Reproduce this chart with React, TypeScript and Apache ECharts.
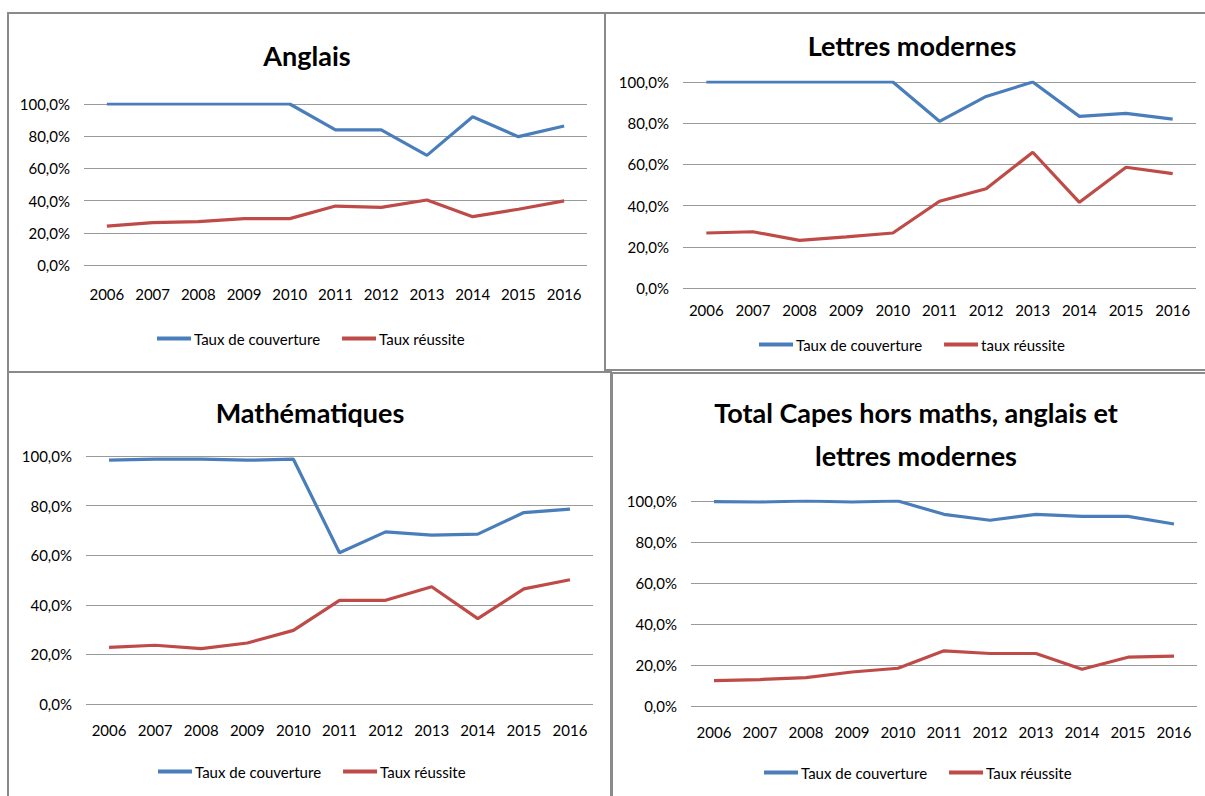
import React, { useEffect, useRef } from "react";
import * as echarts from "echarts";

// ---------- Data ----------
const years = ["2006", "2007", "2008", "2009", "2010", "2011", "2012", "2013", "2014", "2015", "2016"];
const yTicks = [0, 20, 40, 60, 80, 100];

const anglaisCouverture = [100, 100, 100, 100, 100, 83.9, 83.9, 68.1, 92.1, 79.7, 86.3];
const anglaisReussite = [24.2, 26.3, 26.9, 28.8, 28.8, 36.6, 35.8, 40.4, 30.0, 34.6, 39.8];

const lettresCouverture = [100, 100, 100, 100, 100, 80.9, 93.0, 100, 83.3, 84.8, 82.0];
const lettresReussite = [26.7, 27.3, 23.1, 24.8, 26.7, 42.1, 48.2, 65.9, 41.6, 58.6, 55.5];

const mathsCouverture = [98.3, 98.7, 98.7, 98.3, 98.7, 61.0, 69.4, 68.1, 68.5, 77.2, 78.6];
const mathsReussite = [22.8, 23.7, 22.3, 24.6, 29.7, 41.8, 41.8, 47.3, 34.4, 46.4, 50.1];

const totalCouverture = [99.7, 99.5, 100, 99.5, 100, 93.5, 90.6, 93.5, 92.5, 92.5, 88.8];
const totalReussite = [12.4, 12.9, 13.8, 16.6, 18.4, 26.9, 25.6, 25.6, 17.9, 23.8, 24.3];

const titles = [["Anglais"], ["Lettres modernes"], ["Mathématiques"], ["Total Capes hors maths, anglais et", "lettres modernes"]];
const couvertureName = "Taux de couverture";
const reussiteNames = ["Taux réussite", "taux réussite", "Taux réussite", "Taux réussite"];
const couvertureData = [anglaisCouverture, lettresCouverture, mathsCouverture, totalCouverture];
const reussiteData = [anglaisReussite, lettresReussite, mathsReussite, totalReussite];

// ---------- Layout / style ----------
const BLUE = "#4a7ebb";
const RED = "#be4b48";
const FONT = "Lato";

const grids = [
  { left: 84, top: 104, width: 503, height: 161, labelMargin: 21 },
  { left: 683, top: 82, width: 513, height: 206, labelMargin: 14 },
  { left: 86, top: 456, width: 507, height: 248, labelMargin: 18 },
  { left: 691, top: 501, width: 506, height: 205, labelMargin: 18 },
];
const titlePos = [
  { x: 307, y: 55 },
  { x: 912, y: 45 },
  { x: 310, y: 412 },
  { x: 916, y: 412 },
];
const legendPos = [
  { left: 152, cy: 339 },
  { left: 754, cy: 345 },
  { left: 153, cy: 772 },
  { left: 759, cy: 773 },
];
const frames = [
  { x: 8, y: 13, w: 597, h: 359 },
  { x: 605, y: 13, w: 610, h: 357 },
  { x: 8, y: 372, w: 603, h: 440 },
  { x: 612, y: 373, w: 600, h: 440 },
];

const fmt = (v: number) => `${v.toFixed(1).replace(".", ",")}%`;

export default function App() {
  const ref = useRef<HTMLDivElement>(null);

  useEffect(() => {
    if (!ref.current) return;
    const chart = echarts.init(ref.current, null, { renderer: "svg" });

    const graphic: any[] = [];
    frames.forEach((f) => {
      graphic.push({
        type: "rect",
        shape: { x: f.x, y: f.y, width: f.w, height: f.h },
        style: { fill: "none", stroke: "#8a8a8a", lineWidth: 2 },
        silent: true,
      });
    });
    titles.forEach((lines, i) => {
      lines.forEach((t, j) => {
        graphic.push({
          type: "text",
          x: titlePos[i].x,
          y: titlePos[i].y + j * 43,
          style: {
            text: t,
            fontSize: 27,
            fontWeight: "bold",
            fontFamily: FONT,
            fill: "#000",
            align: "center",
            verticalAlign: "middle",
            textAlign: "center",
            textVerticalAlign: "middle",
          },
          silent: true,
        });
      });
    });

    const series: any[] = [];
    couvertureData.forEach((d, i) => {
      series.push({
        type: "line",
        name: couvertureName,
        xAxisIndex: i,
        yAxisIndex: i,
        data: d,
        symbol: "none",
        showSymbol: false,
        color: BLUE,
        lineStyle: { color: BLUE, width: 3.2 },
      });
      series.push({
        type: "line",
        name: reussiteNames[i],
        xAxisIndex: i,
        yAxisIndex: i,
        data: reussiteData[i],
        symbol: "none",
        showSymbol: false,
        color: RED,
        lineStyle: { color: RED, width: 3.2 },
      });
    });

    chart.setOption({
      animation: false,
      backgroundColor: "#ffffff",
      graphic,
      grid: grids.map((g) => ({ left: g.left, top: g.top, width: g.width, height: g.height, containLabel: false })),
      xAxis: grids.map((g, i) => ({
        type: "category",
        gridIndex: i,
        data: years,
        boundaryGap: true,
        axisLine: { show: false },
        axisTick: { show: false },
        axisLabel: { color: "#000", fontFamily: FONT, fontSize: 15, margin: g.labelMargin, interval: 0 },
      })),
      yAxis: grids.map((g, i) => ({
        type: "value",
        gridIndex: i,
        min: yTicks[0],
        max: yTicks[yTicks.length - 1],
        interval: yTicks[1] - yTicks[0],
        axisLine: { show: false },
        axisTick: { show: false },
        splitLine: { show: true, lineStyle: { color: "#9a9a9a", width: 1 } },
        axisLabel: { color: "#000", fontFamily: FONT, fontSize: 15, margin: 14, formatter: fmt },
      })),
      legend: legendPos.map((p, i) => ({
        left: p.left,
        top: p.cy - 13,
        orient: "horizontal",
        itemWidth: 34,
        itemHeight: 4,
        itemGap: 22,
        selectedMode: false,
        textStyle: { color: "#000", fontFamily: FONT, fontSize: 15, padding: [0, 0, 0, -2] },
        data: [
          { name: couvertureName, icon: "rect", itemStyle: { color: BLUE } },
          { name: reussiteNames[i], icon: "rect", itemStyle: { color: RED } },
        ],
      })),
      series,
    });

    return () => chart.dispose();
  }, []);

  return (
    <div
      ref={ref}
      style={{ position: "absolute", left: 0, top: 0, width: 1205, height: 796, background: "#fff" }}
    />
  );
}
